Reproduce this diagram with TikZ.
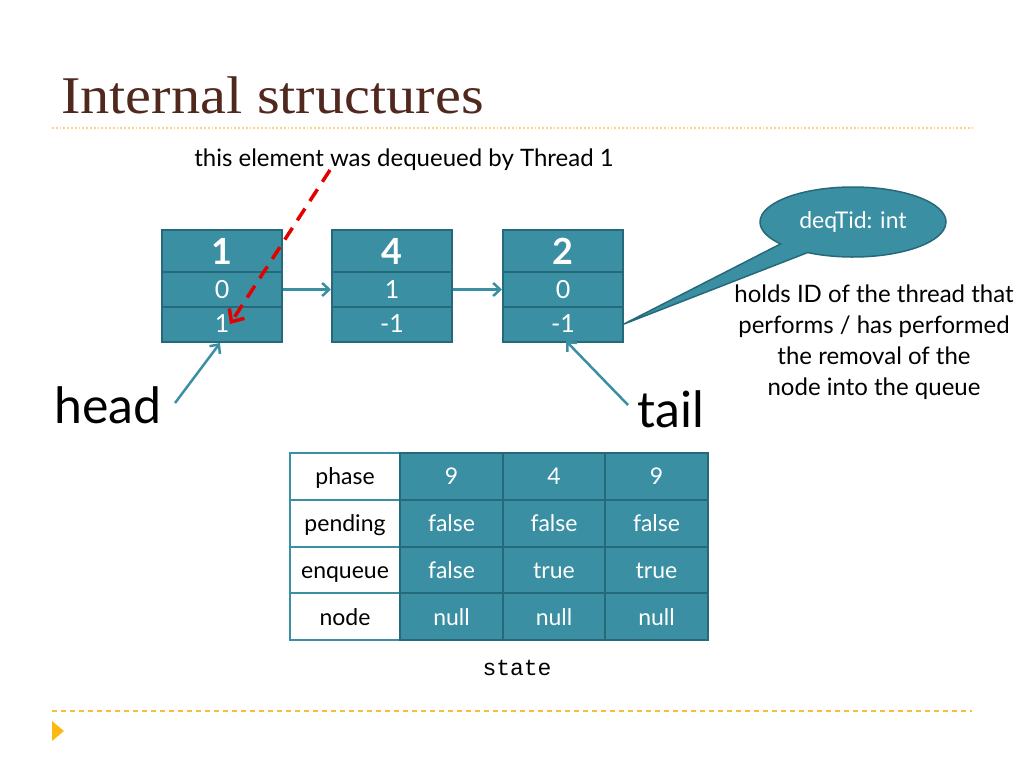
\documentclass[tikz,border=0pt]{standalone}
\usepackage{fontspec}
\setmainfont{Lato}
\newfontfamily\titlefont[FakeStretch=1.1]{Liberation Serif}
\setmonofont{Liberation Mono}
\usetikzlibrary{shapes.callouts,shapes.geometric,arrows.meta}
\definecolor{teal1}{RGB}{58,143,163}
\definecolor{tealb}{RGB}{38,105,122}
\definecolor{titlec}{RGB}{80,40,30}
\definecolor{lineA}{RGB}{245,215,130}
\definecolor{lineB}{RGB}{245,190,60}
\definecolor{tri}{RGB}{253,185,19}
\begin{document}
\begin{tikzpicture}[x=1pt,y=-1pt,
  cellbig/.style={draw=tealb,line width=2pt,fill=teal1,text=white,minimum width=120pt,minimum height=42pt,inner sep=0pt,font=\fontsize{36}{38}\selectfont\bfseries},
  cell/.style={draw=tealb,line width=2pt,fill=teal1,text=white,minimum width=120pt,minimum height=35pt,inner sep=0pt,font=\fontsize{25}{27}\selectfont},
  tcell/.style={draw=tealb,line width=2pt,fill=teal1,text=white,minimum width=103pt,minimum height=47pt,inner sep=0pt,text height=20pt,text depth=3pt,font=\fontsize{23}{25}\selectfont},
  lcell/.style={draw=teal1,line width=2pt,fill=white,text=black,minimum width=110pt,minimum height=47pt,inner sep=0pt,text height=20pt,text depth=3pt,font=\fontsize{23}{25}\selectfont},
  link/.style={draw=teal1,line width=2.5pt,-{Straight Barb[length=7pt,width=13pt]}},
  body/.style={font=\fontsize{24}{31}\selectfont,text=black}
]
\useasboundingbox (0,0) rectangle (1024,768);
% title and rules
\node[anchor=base west,inner sep=0pt,text=titlec,font=\titlefont\fontsize{53}{56}\selectfont] (title) at (61,113) {Internal structures};
\draw[lineA,line width=1.8pt,dotted] (52,128) -- (972,128);
\draw[lineB,line width=1.5pt,dash pattern=on 5pt off 4pt] (52,711) -- (972,711);
\fill[tri] (52,721) -- (64,731) -- (52,741) -- cycle;
% queue nodes
\foreach \n/\x/\a/\b/\c in {1/222/1/0/1, 2/392/4/1/-1, 3/563/2/0/-1}{
  \node[cellbig] (n\n a) at (\x,251) {\a};
  \node[cell] (n\n b) at (\x,289.5) {\b};
  \node[cell] (n\n c) at (\x,324) {\c};
}
\draw[link] (n1b.east) -- (n2b.west);
\draw[link] (n2b.east) -- (n3b.west);
% head / tail
\node[anchor=base west,inner sep=0pt,font=\fontsize{50}{54}\selectfont] (head) at (54,423) {head};
\node[anchor=base west,inner sep=0pt,font=\fontsize{50}{54}\selectfont] (tail) at (637,427) {tail};
\coordinate (hs) at (175,403);
\coordinate (ts) at (628,405);
\draw[link] (hs) -- (220,343);
\draw[link] (ts) -- (566,341);
% dequeue label and red arrow
\node[body,anchor=base] (deq) at (404,166) {this element was dequeued by Thread 1};
\coordinate (rs) at (330,170);
\draw[red!90!black,line width=3.5pt,dash pattern=on 14pt off 9pt,-{Straight Barb[length=10pt,width=18pt]}] (rs) -- (230,324);
% callout
\node[ellipse callout,draw=tealb,line width=1.5pt,fill=teal1,text=white,minimum width=186pt,minimum height=70pt,
  callout absolute pointer={(n3c.east)},callout pointer arc=22,font=\fontsize{23}{25}\selectfont] (call) at (853,222) {deqTid: int};
\node[body,align=center,anchor=north] (expl) at (874,281) {holds ID of the thread that\\performs / has performed\\the removal of the\\node into the queue};
% state table
\foreach \r/\y/\l/\p/\q/\s in {1/476/phase/9/4/9, 2/523/pending/false/false/false, 3/570/enqueue/false/true/true, 4/616.5/node/null/null/null}{
  \node[lcell] (l\r) at (345,\y) {\l};
  \node[tcell] (a\r) at (451.5,\y) {\p};
  \node[tcell] (b\r) at (554,\y) {\q};
  \node[tcell] (c\r) at (656.5,\y) {\s};
}
\node[font=\ttfamily\fontsize{23}{25}\selectfont] (state) at (517,668) {state};
\end{tikzpicture}
\end{document}
